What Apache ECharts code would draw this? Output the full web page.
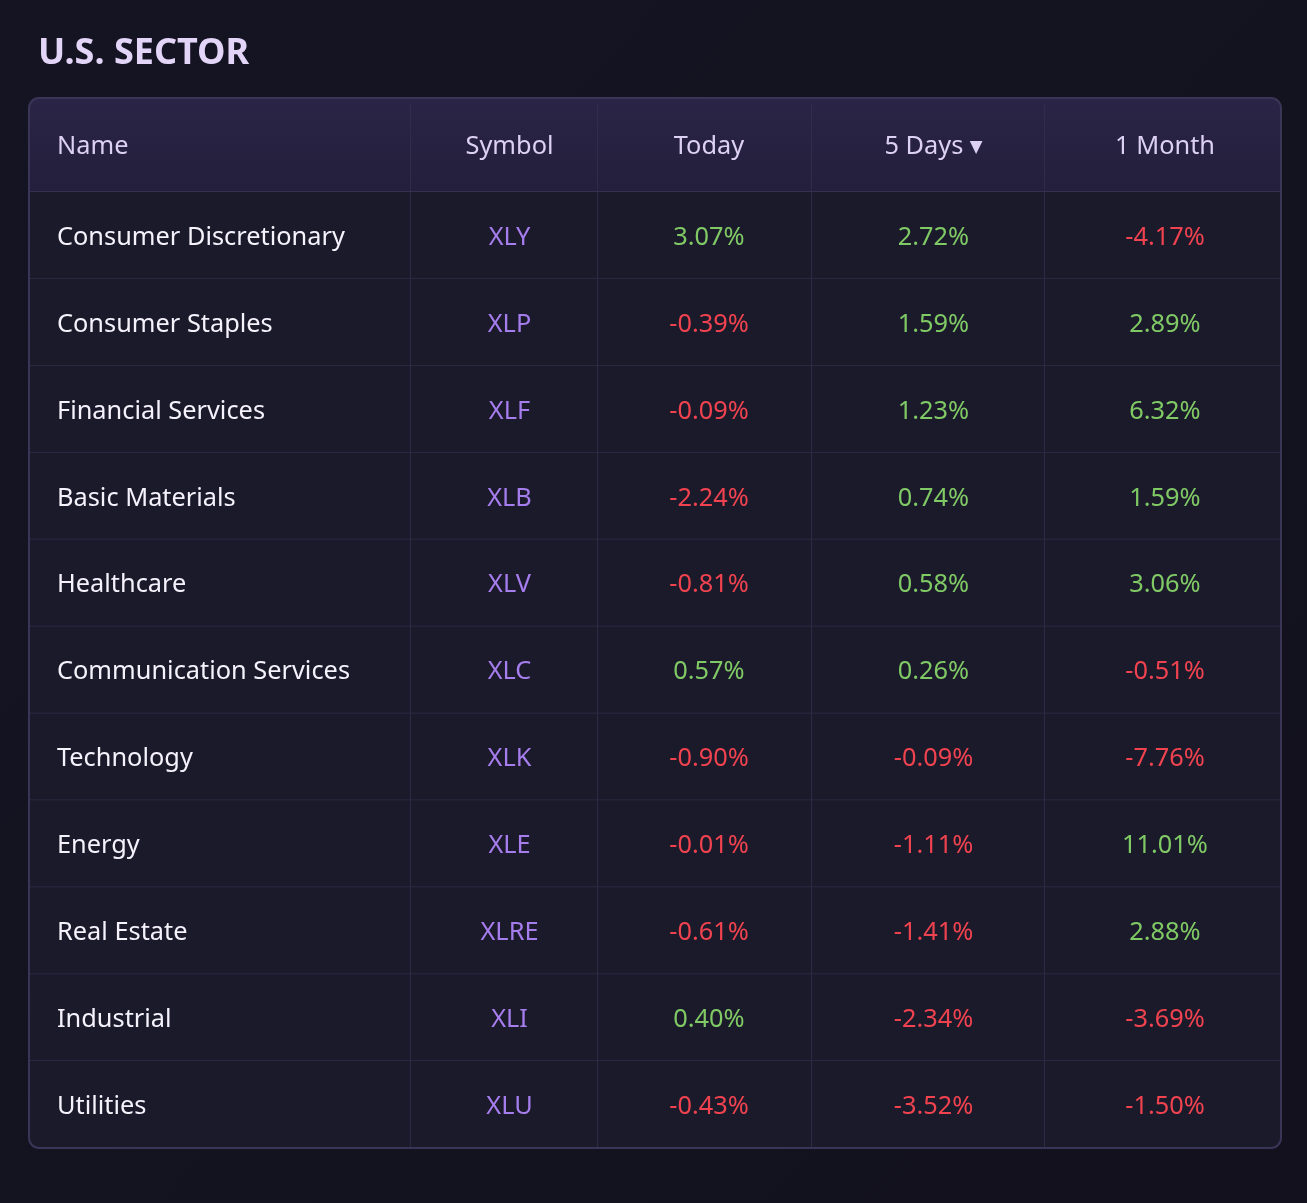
<!DOCTYPE html>
<html>
<head>
<meta charset="utf-8">
<title>U.S. Sector</title>
<script src="https://cdn.jsdelivr.net/npm/echarts@6/dist/echarts.min.js"></script>
<style>
  html, body { margin: 0; padding: 0; background: #14131f; }
  #main { width: 1307px; height: 1203px; }
</style>
</head>
<body>
<div id="main"></div>
<script>
// table content
var headers = ['Name', 'Symbol', 'Today', '5 Days', '1 Month'];
var names = ['Consumer Discretionary', 'Consumer Staples', 'Financial Services', 'Basic Materials', 'Healthcare',
    'Communication Services', 'Technology', 'Energy', 'Real Estate', 'Industrial', 'Utilities'];
var symbols = ['XLY', 'XLP', 'XLF', 'XLB', 'XLV', 'XLC', 'XLK', 'XLE', 'XLRE', 'XLI', 'XLU'];
var today = [3.07, -0.39, -0.09, -2.24, -0.81, 0.57, -0.90, -0.01, -0.61, 0.40, -0.43];
var fiveDays = [2.72, 1.59, 1.23, 0.74, 0.58, 0.26, -0.09, -1.11, -1.41, -2.34, -3.52];
var oneMonth = [-4.17, 2.89, 6.32, 1.59, 3.06, -0.51, -7.76, 11.01, 2.88, -3.69, -1.50];

// layout: column widths on the x scale, header height in row units
var colWidths = [382, 187, 214, 233, 236];
var textShift = [0, 5, 4, 5, 2];
var hdrH = 1.08;
var colEdges = [0];
colWidths.forEach(function (w, i) { colEdges.push(colEdges[i] + w); });
var nCols = headers.length, nRows = names.length;

var GREEN = '#80ca65', RED = '#f0434f', PURPLE = '#a67ded';
var FONT = '"Noto Sans", "Open Sans", sans-serif';

function pct(v) { return v.toFixed(2) + '%'; }

var cells = [];
headers.forEach(function (h, c) {
    cells.push({ value: [c, -1], text: c === 3 ? h + ' {s|▼}' : h, color: '#ddd1f3', header: true });
});
for (var r = 0; r < nRows; r++) {
    var cols = [today[r], fiveDays[r], oneMonth[r]];
    cells.push({ value: [0, r], text: names[r], color: '#f5f2fc' });
    cells.push({ value: [1, r], text: symbols[r], color: PURPLE });
    cols.forEach(function (v, k) {
        cells.push({ value: [k + 2, r], text: pct(v), color: v >= 0 ? GREEN : RED });
    });
}

function renderCell(params, api) {
    var cell = cells[params.dataIndex];
    var c = api.value(0), r = api.value(1);
    var y0 = r < 0 ? -hdrH : r, y1 = r < 0 ? 0 : r + 1;
    var p0 = api.coord([colEdges[c], y0]);
    var p1 = api.coord([colEdges[c + 1], y1]);
    var x = p0[0], y = p0[1], w = p1[0] - p0[0], h = p1[1] - p0[1];
    var rad = [0, 0, 0, 0];
    if (r < 0 && c === 0) rad = [10, 0, 0, 0];
    if (r < 0 && c === nCols - 1) rad = [0, 10, 0, 0];
    if (r === nRows - 1 && c === 0) rad = [0, 0, 0, 10];
    if (r === nRows - 1 && c === nCols - 1) rad = [0, 0, 10, 0];
    var children = [{
        type: 'rect',
        shape: { x: x, y: y, width: w, height: h, r: rad },
        style: cell.header ? {
            fill: new echarts.graphic.LinearGradient(0, 0, 0, 1, [
                { offset: 0, color: '#2a2446' }, { offset: 1, color: '#241f3c' }])
        } : { fill: '#1b1a2b' }
    }];
    if (c < nCols - 1) {
        children.push({
            type: 'line',
            shape: { x1: x + w, y1: y + (r < 0 ? 6 : 0), x2: x + w, y2: y + h },
            style: { stroke: '#35314f', lineWidth: 1.5 }
        });
    }
    if (r < nRows - 1) {
        children.push({
            type: 'line',
            shape: { x1: x, y1: y + h, x2: x + w, y2: y + h },
            style: { stroke: r < 0 ? '#3f3960' : '#312d48', lineWidth: 1.5 }
        });
    }
    children.push({
        type: 'text',
        x: c === 0 ? x + 28 : x + w / 2 + textShift[c],
        y: y + h / 2 + 2,
        scaleX: 0.975,
        style: {
            text: cell.text,
            fill: cell.color,
            font: '400 26px ' + FONT,
            align: c === 0 ? 'left' : 'center',
            verticalAlign: 'middle',
            rich: { s: { fontSize: 17, fill: '#ddd1f3', fontFamily: 'DejaVu Sans', padding: [2, 0, 0, 0] } }
        }
    });
    return { type: 'group', children: children };
}

function renderFrame(params, api) {
    var p0 = api.coord([0, -hdrH]);
    var p1 = api.coord([colEdges[nCols], nRows]);
    return {
        type: 'rect',
        shape: { x: p0[0], y: p0[1], width: p1[0] - p0[0], height: p1[1] - p0[1], r: 10 },
        style: { fill: 'none', stroke: '#3a3556', lineWidth: 2 }
    };
}

var chart = echarts.init(document.getElementById('main'));
chart.setOption({
    backgroundColor: new echarts.graphic.LinearGradient(0, 0, 1, 1, [
        { offset: 0, color: '#151422' }, { offset: 1, color: '#12111d' }]),
    title: {
        text: 'U.S. SECTOR',
        left: 38,
        top: 36,
        padding: 0,
        textStyle: { color: '#e3d5f8', fontSize: 36, fontWeight: 'bold', fontFamily: FONT }
    },
    grid: { left: 29, right: 26, top: 98, bottom: 55 },
    xAxis: { type: 'value', min: 0, max: colEdges[nCols], show: false },
    yAxis: { type: 'value', min: -hdrH, max: nRows, inverse: true, show: false },
    series: [{
        type: 'custom',
        renderItem: renderCell,
        data: cells,
        silent: true,
        clip: false
    }, {
        type: 'custom',
        renderItem: renderFrame,
        data: [[0, 0]],
        silent: true,
        clip: false,
        z: 3
    }]
});
</script>
</body>
</html>
